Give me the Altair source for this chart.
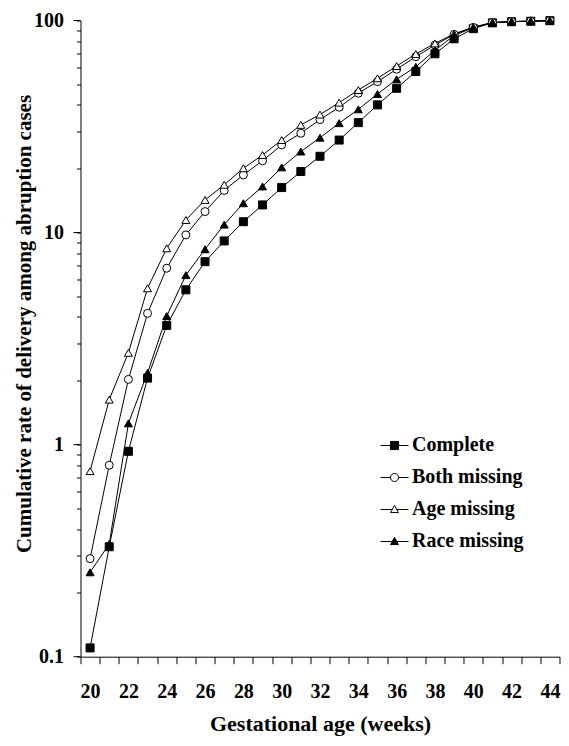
import altair as alt
import pandas as pd

# ---------------- data ----------------
weeks = list(range(20, 45))
series_names = ["Complete", "Both missing", "Age missing", "Race missing"]

complete = [0.11, 0.33, 0.93, 2.06, 3.65, 5.37, 7.29, 9.13, 11.25, 13.5, 16.3, 19.4, 22.9,
            27.3, 33.0, 40.0, 47.9, 57.5, 69.7, 82.0, 91.5, 97.5, 98.7, 99.2, 99.8]
both_missing = [0.29, 0.80, 2.03, 4.16, 6.79, 9.75, 12.56, 15.8, 18.7, 21.8, 25.9, 29.4, 34.1,
                39.0, 45.4, 51.5, 58.9, 67.5, 76.6, 86.0, 92.8, 97.8, 98.8, 99.3, 99.8]
age_missing = [0.75, 1.63, 2.71, 5.46, 8.43, 11.46, 14.25, 16.8, 20.1, 23.2, 27.3, 32.2, 36.0,
               41.0, 47.0, 53.4, 61.0, 69.5, 78.0, 86.5, 93.0, 97.8, 98.9, 99.3, 99.8]
race_missing = [0.25, 0.34, 1.26, 2.18, 4.04, 6.3, 8.34, 10.9, 13.75, 16.5, 20.3, 24.1, 28.0,
                32.8, 38.1, 45.0, 52.8, 60.5, 72.3, 85.0, 92.5, 97.7, 98.8, 99.3, 99.8]

x_label_weeks = [20, 22, 24, 26, 28, 30, 32, 34, 36, 38, 40, 42, 44]
major_ticks = [0.1, 1, 10, 100]

marker_shapes = ["square", "circle", "triangle-up", "triangle-up"]
marker_fills = ["black", "white", "white", "black"]
marker_sizes = [64, 64, 90, 90]
legend_paths = [
    "M-1,0H1M-0.29,-0.29H0.29V0.29H-0.29Z",
    "M-1,0H-0.29M0.29,0H1M-0.29,0A0.29,0.29,0,1,0,0.29,0A0.29,0.29,0,1,0,-0.29,0Z",
    "M-1,0H-0.16M0.16,0H1M0,-0.3L0.28,0.22L-0.28,0.22Z",
    "M-1,0H1M0,-0.3L0.28,0.22L-0.28,0.22Z",
]

rows = []
for name, vals in zip(series_names, [complete, both_missing, age_missing, race_missing]):
    for w, v in zip(weeks, vals):
        rows.append({"week": w, "rate": v, "series": name})
df = pd.DataFrame(rows)
ticks_df = pd.DataFrame({"rate": major_ticks})

# ---------------- layout ----------------
FONT = "Liberation Serif"
W, H = 479.0, 636.2
LEFT, TOP = 72.5, 12.5
CANVAS_W = 553
step = W / len(weeks)

x_tick_vals = [w - 0.5 for w in weeks] + [weeks[-1] + 0.5]
y_tick_vals = sorted({round(m * d, 6) for d in [0.1, 1, 10] for m in range(1, 10)} | {100})

x_scale = alt.Scale(domain=[weeks[0] - 0.5, weeks[-1] + 0.5], nice=False, zero=False)
y_scale = alt.Scale(type="log", domain=[0.1, 100], nice=False)

x_test = " || ".join(f"datum.value + 0.5 == {v}" for v in x_label_weeks)
y_test = " || ".join(f"datum.value == {v}" for v in major_ticks)

x_axis = alt.Axis(
    values=x_tick_vals,
    labelExpr=f"({x_test}) ? format(datum.value + 0.5, 'd') : ''",
    labelOffset=step / 2,
    tickSize=7,
    labelPadding=18,
    labelFlush=False,
    labelOverlap=False,
    grid=False,
    title="Gestational age (weeks)",
    titleFontSize=22,
    titleY=74,
    titleBaseline="alphabetic",
)
y_axis = alt.Axis(
    values=y_tick_vals,
    labelExpr=f"({y_test}) ? datum.label : ''",
    format="~g",
    tickSize=4,
    labelPadding=13,
    labelOverlap=False,
    labelFlush=False,
    grid=False,
    title="Cumulative rate of delivery among abruption cases",
    titleX=-56,
    titleY=303,
    titleAngle=270,
    titleAlign="center",
    titleBaseline="middle",
)

X = alt.X("week:Q", scale=x_scale, axis=x_axis)
Y = alt.Y("rate:Q", scale=y_scale, axis=y_axis)

major_rules = alt.Chart(ticks_df).mark_rule(color="black", strokeWidth=1).encode(
    y=Y, x=alt.value(-7), x2=alt.value(0)
)

lines = alt.Chart(df).mark_line(color="black", strokeWidth=1).encode(
    x=X, y=Y, detail="series:N", order="week:Q"
)

points = alt.Chart(df).mark_point(filled=True, stroke="black", strokeWidth=1, opacity=1).encode(
    x=X,
    y=Y,
    shape=alt.Shape("series:N", scale=alt.Scale(domain=series_names, range=marker_shapes), legend=None),
    fill=alt.Fill("series:N", scale=alt.Scale(domain=series_names, range=marker_fills), legend=None),
    size=alt.Size("series:N", scale=alt.Scale(domain=series_names, range=marker_sizes), legend=None),
)

legend_def = alt.Legend(
    title=None,
    orient="none",
    legendX=299.5,
    legendY=410.5,
    symbolSize=784,
    symbolStrokeWidth=1,
    symbolStrokeColor="black",
    symbolFillColor="white",
    symbolOpacity=1,
    labelFont=FONT,
    labelFontSize=20,
    labelFontWeight="bold",
    labelColor="black",
    labelOffset=3,
    rowPadding=7,
    padding=0,
    labelLimit=0,
)

legend_layer = alt.Chart(df).transform_filter("datum.week > 1000").mark_point(
    filled=True, stroke="black", strokeWidth=1, opacity=1
).encode(
    x=X,
    y=Y,
    shape=alt.Shape("series:N", scale=alt.Scale(domain=series_names, range=legend_paths), legend=legend_def),
    fill=alt.Fill("series:N", scale=alt.Scale(domain=series_names, range=marker_fills), legend=legend_def),
)

chart = (
    alt.layer(major_rules, lines, points, legend_layer)
    .resolve_scale(shape="independent", fill="independent")
    .properties(
        width=W,
        height=H,
        autosize=alt.AutoSizeParams(type="none"),
        padding={"left": LEFT, "top": TOP, "right": CANVAS_W - LEFT - W, "bottom": 81},
    )
    .configure_view(stroke=None)
    .configure_axis(
        domainColor="black",
        domainWidth=1,
        tickColor="black",
        tickWidth=1,
        labelFont=FONT,
        labelFontSize=20,
        labelFontWeight="bold",
        labelColor="black",
        titleFont=FONT,
        titleFontSize=21,
        titleFontWeight="bold",
        titleColor="black",
    )
)

chart.save("out.html", embed_options={"renderer": "svg", "actions": False})
